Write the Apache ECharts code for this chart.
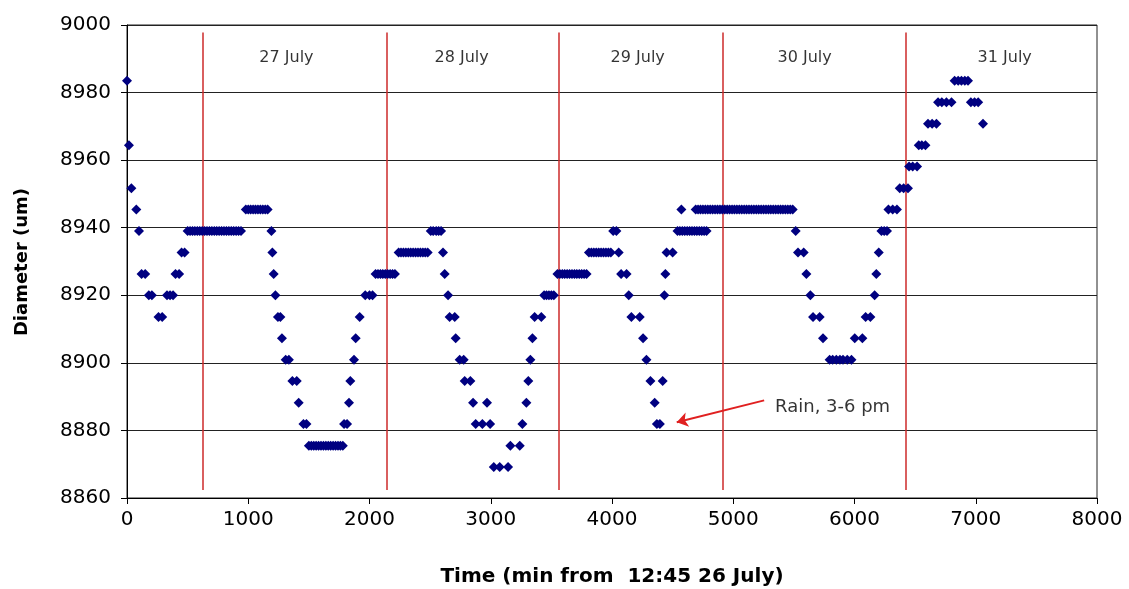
<!DOCTYPE html>
<html><head><meta charset="utf-8">
<script src="https://cdn.jsdelivr.net/npm/echarts@6/dist/echarts.min.js"></script>
<style>html,body{margin:0;padding:0;background:#fff}#c{width:1129px;height:589px}</style>
</head><body><div id="c"></div>
<script>
// Time in minutes from 12:45 26 July (groups aligned with diameterUm below)
const timeMin = [
  0,16,36,77,99,120,150,180,205,260,290,330,355,380,400,430,450,475,
  500,520,540,560,580,600,620,640,660,680,700,720,740,760,780,800,820,840,860,880,900,920,940,
  980,1000,1020,1040,1060,1080,1100,1120,1140,1160,
  1191,1199,1210,1224,1245,1265,1278,1309,1335,1364,1400,1416,1455,1480,
  1500,1520,1540,1560,1580,1600,1620,1640,1660,1680,1700,1720,1740,1760,1780,
  1790,1815,1831,1842,1872,1886,1919,1965,2000,2025,
  2050,2070,2090,2110,2130,2150,2170,2190,2210,
  2240,2260,2280,2300,2320,2340,2360,2380,2400,2420,2440,2460,2480,
  2505,2525,2550,2570,2590,
  2606,2620,2648,2661,2703,2711,2744,2777,2785,2832,2854,2876,2931,2969,2995,3025,3074,3143,3162,3239,3261,3294,3310,3327,3344,3362,3417,
  3440,3460,3480,3500,3520,
  3550,3570,3590,3610,3630,3650,3670,3690,3710,3730,3750,3770,3790,
  3810,3830,3850,3870,3890,3910,3930,3950,3970,3990,
  4010,4036,4055,4075,4120,4138,4160,4229,4256,4284,4317,4352,4370,4395,4418,4432,4440,4450,4500,
  4540,4560,4580,4600,4620,4640,4660,4680,4700,4720,4740,4760,4780,
  4572,4690,4710,4730,4750,4770,4790,4810,4830,4850,4870,4890,4910,4930,4950,4970,4990,5010,5030,5050,5070,5090,5110,5130,5150,5170,5190,5210,5230,5250,5270,5290,5310,5330,5350,5370,5390,5410,5430,5450,5470,5490,
  5515,5534,5581,5603,5636,5658,5713,5740,
  5795,5820,5850,5880,5905,5940,5975,
  6002,6065,6092,6131,6166,6180,6200,
  6222,6245,6268,6280,6315,6350,6373,6405,6441,6450,6480,6516,6530,6555,6585,6606,6640,6676,
  6689,6720,6758,6800,6826,6855,6882,6910,6936,6960,6990,7020,7060
];
// Diameter (um)
const diameterUm = [
  8983.5,8964.4,8951.7,8945.4,8939.0,8926.3,8926.3,8920.0,8920.0,8913.6,8913.6,8920.0,8920.0,8920.0,8926.3,8926.3,8932.7,8932.7,
  8939.0,8939.0,8939.0,8939.0,8939.0,8939.0,8939.0,8939.0,8939.0,8939.0,8939.0,8939.0,8939.0,8939.0,8939.0,8939.0,8939.0,8939.0,8939.0,8939.0,8939.0,8939.0,8939.0,
  8945.4,8945.4,8945.4,8945.4,8945.4,8945.4,8945.4,8945.4,8945.4,8945.4,
  8939.0,8932.7,8926.3,8920.0,8913.6,8913.6,8907.3,8900.9,8900.9,8894.6,8894.6,8888.2,8881.9,8881.9,
  8875.5,8875.5,8875.5,8875.5,8875.5,8875.5,8875.5,8875.5,8875.5,8875.5,8875.5,8875.5,8875.5,8875.5,8875.5,
  8881.9,8881.9,8888.2,8894.6,8900.9,8907.3,8913.6,8920.0,8920.0,8920.0,
  8926.3,8926.3,8926.3,8926.3,8926.3,8926.3,8926.3,8926.3,8926.3,
  8932.7,8932.7,8932.7,8932.7,8932.7,8932.7,8932.7,8932.7,8932.7,8932.7,8932.7,8932.7,8932.7,
  8939.0,8939.0,8939.0,8939.0,8939.0,
  8932.7,8926.3,8920.0,8913.6,8913.6,8907.3,8900.9,8900.9,8894.6,8894.6,8888.2,8881.9,8881.9,8888.2,8881.9,8869.2,8869.2,8869.2,8875.5,8875.5,8881.9,8888.2,8894.6,8900.9,8907.3,8913.6,8913.6,
  8920.0,8920.0,8920.0,8920.0,8920.0,
  8926.3,8926.3,8926.3,8926.3,8926.3,8926.3,8926.3,8926.3,8926.3,8926.3,8926.3,8926.3,8926.3,
  8932.7,8932.7,8932.7,8932.7,8932.7,8932.7,8932.7,8932.7,8932.7,8932.7,
  8939.0,8939.0,8932.7,8926.3,8926.3,8920.0,8913.6,8913.6,8907.3,8900.9,8894.6,8888.2,8881.9,8881.9,8894.6,8920.0,8926.3,8932.7,8932.7,
  8939.0,8939.0,8939.0,8939.0,8939.0,8939.0,8939.0,8939.0,8939.0,8939.0,8939.0,8939.0,8939.0,
  8945.4,8945.4,8945.4,8945.4,8945.4,8945.4,8945.4,8945.4,8945.4,8945.4,8945.4,8945.4,8945.4,8945.4,8945.4,8945.4,8945.4,8945.4,8945.4,8945.4,8945.4,8945.4,8945.4,8945.4,8945.4,8945.4,8945.4,8945.4,8945.4,8945.4,8945.4,8945.4,8945.4,8945.4,8945.4,8945.4,8945.4,8945.4,8945.4,8945.4,8945.4,8945.4,
  8939.0,8932.7,8932.7,8926.3,8920.0,8913.6,8913.6,8907.3,
  8900.9,8900.9,8900.9,8900.9,8900.9,8900.9,8900.9,
  8907.3,8907.3,8913.6,8913.6,8920.0,8926.3,8932.7,
  8939.0,8939.0,8939.0,8945.4,8945.4,8945.4,8951.7,8951.7,8951.7,8958.1,8958.1,8958.1,8964.4,8964.4,8964.4,8970.8,8970.8,8970.8,
  8977.1,8977.1,8977.1,8977.1,8983.5,8983.5,8983.5,8983.5,8983.5,8977.1,8977.1,8977.1,8970.8
];
// Day separators (red vertical lines) and day labels
const dayLineTimes = [622, 2144, 3563, 4915, 6422];
const dayLabels = ['27 July', '28 July', '29 July', '30 July', '31 July'];
const dayLabelTimes = [1315, 2760, 4212, 5589, 7239];
const dayLabelY = 8990.4;
const lineTop = 8997.8, lineBottom = 8862.4;
// Rain annotation
const rainText = 'Rain, 3-6 pm';
const rainTextPos = [5345, 8886.9];
const rainArrowFrom = [5255, 8888.9];
const rainArrowTo = [4534, 8882.4];

const points = timeMin.map((t, i) => [t, diameterUm[i]]);
const FONT = '"DejaVu Sans", Verdana, sans-serif';
const RED = '#cc2a2a';

const chart = echarts.init(document.getElementById('c'), null, {renderer: 'canvas'});
chart.setOption({
  animation: false,
  backgroundColor: '#ffffff',
  grid: {left: 127, right: 32, top: 25, bottom: 91, show: true, borderColor: '#222', borderWidth: 1, backgroundColor: 'transparent'},
  xAxis: {
    type: 'value', min: 0, max: 8000, interval: 1000,
    axisLine: {show: true, onZero: false, lineStyle: {color: '#000', width: 1}},
    axisTick: {show: true, inside: false, length: 6, lineStyle: {color: '#000'}},
    axisLabel: {color: '#000', fontSize: 20, fontFamily: FONT, margin: 12, formatter: v => String(v)},
    splitLine: {show: false}
  },
  yAxis: {
    type: 'value', min: 8860, max: 9000, interval: 20,
    axisLine: {show: true, onZero: false, lineStyle: {color: '#000', width: 1}},
    axisTick: {show: true, inside: false, length: 6, lineStyle: {color: '#000'}},
    axisLabel: {color: '#000', fontSize: 20, fontFamily: FONT, margin: 16, formatter: v => String(v)},
    splitLine: {show: true, lineStyle: {color: '#222', width: 1}}
  },
  series: [
    {
      name: 'Diameter', type: 'scatter', data: points,
      symbol: 'diamond', symbolSize: [10, 10],
      itemStyle: {color: '#000080', opacity: 1}, z: 5
    },
    {
      name: 'days', type: 'scatter', silent: true, symbolSize: 0,
      data: dayLabelTimes.map((t, i) => ({value: [t, dayLabelY], label: {formatter: dayLabels[i]}})),
      label: {show: true, position: 'inside', color: '#000', fontSize: 16, fontFamily: FONT},
      markLine: {
        silent: true, symbol: ['none', 'none'], animation: false,
        label: {show: false},
        lineStyle: {color: RED, width: 1.5, type: 'solid', opacity: 1},
        emphasis: {disabled: true},
        data: dayLineTimes.map(t => [
          {coord: [t, lineTop], lineStyle: {color: RED, width: 1.5, type: 'solid', opacity: 1}},
          {coord: [t, lineBottom]}
        ])
      }
    },
    {
      name: 'rain', type: 'scatter', silent: true, symbolSize: 0,
      data: [{value: rainTextPos}],
      label: {show: true, position: 'right', distance: 0, formatter: rainText, color: '#000', fontSize: 18, fontFamily: FONT},
      markLine: {
        silent: true, symbol: ['none', 'arrow'], symbolSize: 11, animation: false,
        label: {show: false},
        lineStyle: {color: '#e02020', width: 2, type: 'solid'},
        data: [[{coord: rainArrowFrom}, {coord: rainArrowTo}]]
      }
    }
  ],
  graphic: [
    {type: 'text', x: 22, y: 262, rotation: Math.PI / 2,
     style: {text: 'Diameter (um)', font: 'bold 18px ' + FONT, fill: '#000', textAlign: 'center', textVerticalAlign: 'middle'}},
    {type: 'text', x: 612, y: 577,
     style: {text: 'Time (min from  12:45 26 July)', font: 'bold 20px ' + FONT, fill: '#000', textAlign: 'center', textVerticalAlign: 'middle'}}
  ]
});
</script>
</body></html>
